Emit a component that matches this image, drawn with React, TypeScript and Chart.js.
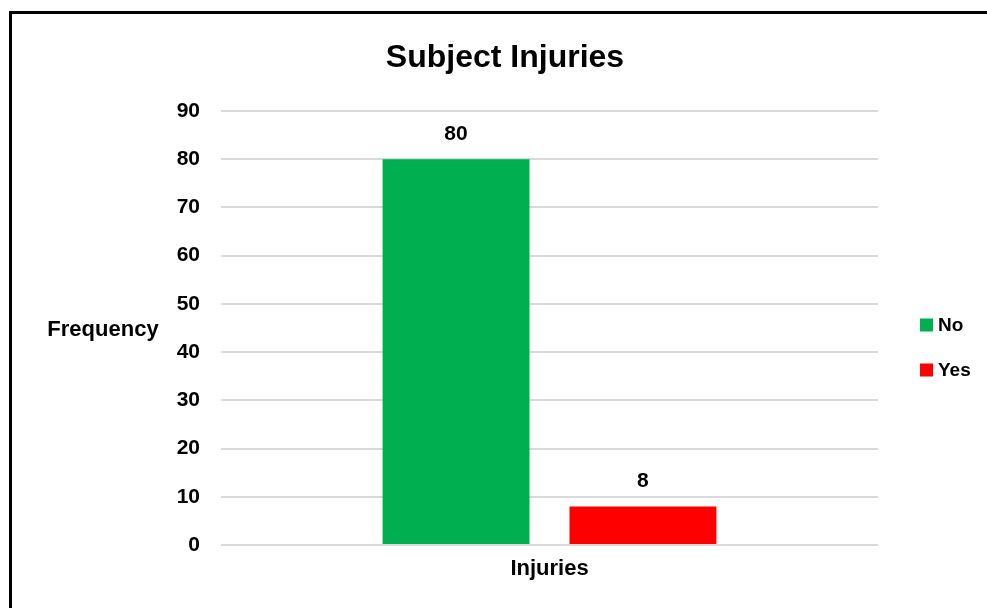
import React, { useEffect, useRef } from "react";
import { Chart, registerables } from "chart.js";

Chart.register(...registerables);

const categories = ["Injuries"];
const seriesNames = ["No", "Yes"];
const noValues = [80];
const yesValues = [8];
const seriesColors = ["#00B050", "#FF0000"];
const yMin = 0;
const yMax = 90;
const yStep = 10;
const chartTitle = "Subject Injuries";
const yAxisTitle = "Frequency";

const FONT = "'Liberation Sans', Arial, sans-serif";

const overlayPlugin = {
  id: "overlay",
  afterDraw(chart: any) {
    const ctx = chart.ctx;
    const area = chart.chartArea;
    ctx.save();
    ctx.fillStyle = "#000";
    // title
    ctx.font = `bold 32px ${FONT}`;
    ctx.textAlign = "center";
    ctx.textBaseline = "middle";
    ctx.fillText(chartTitle, 505, 58);
    // y axis title (horizontal)
    ctx.font = `bold 22px ${FONT}`;
    ctx.textAlign = "center";
    ctx.fillText(yAxisTitle, 103, (area.top + area.bottom) / 2 + 2);
    // data labels
    ctx.font = `bold 21px ${FONT}`;
    chart.data.datasets.forEach((ds: any, i: number) => {
      const meta = chart.getDatasetMeta(i);
      meta.data.forEach((el: any, j: number) => {
        ctx.fillText(String(ds.data[j]), el.x, el.y - 25);
      });
    });
    // legend
    ctx.font = `bold 19px ${FONT}`;
    ctx.textAlign = "left";
    chart.data.datasets.forEach((ds: any, i: number) => {
      const cy = 325 + i * 45;
      ctx.fillStyle = ds.backgroundColor;
      ctx.fillRect(920, cy - 6.5, 13, 13);
      ctx.fillStyle = "#000";
      ctx.fillText(ds.label, 938, cy + 1);
    });
    ctx.restore();
  },
};

export default function App() {
  const ref = useRef<HTMLCanvasElement | null>(null);
  useEffect(() => {
    if (!ref.current) return;
    const chart = new Chart(ref.current, {
      type: "bar",
      data: {
        labels: categories,
        datasets: [
          { label: seriesNames[0], data: noValues, backgroundColor: seriesColors[0] },
          { label: seriesNames[1], data: yesValues, backgroundColor: seriesColors[1] },
        ],
      },
      options: {
        responsive: false,
        animation: false,
        devicePixelRatio: 1,
        layout: { padding: { top: 111, right: 109, bottom: 0, left: 0 } },
        categoryPercentage: 0.569,
        barPercentage: 0.786,
        plugins: {
          legend: { display: false },
          title: { display: false },
          tooltip: { enabled: false },
        },
        scales: {
          x: {
            grid: { display: false },
            border: { display: false },
            ticks: { color: "#000", font: { family: FONT, size: 22, weight: "bold" }, padding: 3 },
            afterFit(scale: any) {
              scale.height = 63;
            },
          },
          y: {
            min: yMin,
            max: yMax,
            grid: { color: "#D9D9D9", lineWidth: 2, drawTicks: false },
            border: { display: false },
            ticks: {
              stepSize: yStep,
              color: "#000",
              padding: 21,
              font: { family: FONT, size: 21, weight: "bold" },
            },
            afterFit(scale: any) {
              scale.width = 221;
            },
          },
        },
      },
      plugins: [overlayPlugin],
    } as any);
    return () => chart.destroy();
  }, []);
  return (
    <div style={{ position: "fixed", left: 0, top: 0, width: 987, height: 608, background: "#fff", overflow: "hidden" }}>
      <div style={{ position: "absolute", left: 9, top: 11, width: 1100, height: 800, border: "3px solid #000", boxSizing: "border-box" }} />
      <canvas ref={ref} width={987} height={608} style={{ position: "absolute", left: 0, top: 0 }} />
    </div>
  );
}
